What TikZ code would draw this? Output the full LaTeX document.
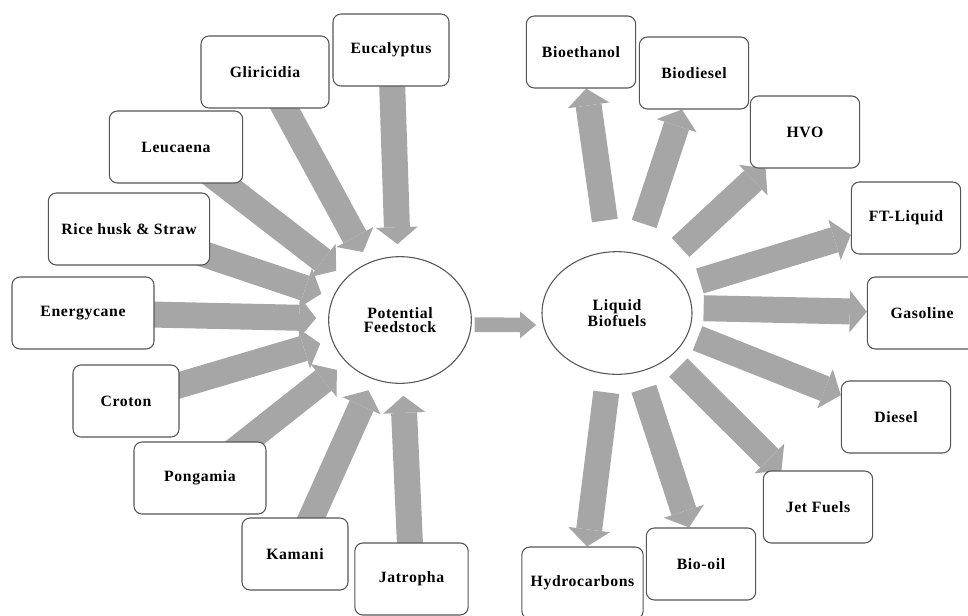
\documentclass[tikz,border=0pt]{standalone}
\usepackage{fontspec}
\setmainfont{Liberation Serif}[LetterSpace=4]
\usetikzlibrary{arrows.meta,shapes.geometric}
\definecolor{arrowgray}{HTML}{A6A6A6}
\definecolor{linegray}{HTML}{555555}
\pgfdeclarelayer{back}
\pgfsetlayers{back,main}

\begin{document}
\begin{tikzpicture}[x=0.75pt, y=-0.75pt,
        txt/.style={font=\fontsize{11.8}{10.8}\selectfont\bfseries},
        box/.style={txt, draw=linegray, fill=white, rounded corners=6pt, line width=0.8pt, minimum height=54pt, inner sep=2pt},
        hub/.style={txt, draw=linegray, fill=white, ellipse, line width=0.8pt, inner sep=0pt, align=center},
        fat/.style={draw=arrowgray, line width=19.5pt, -{Triangle[width=31.5pt, length=12.75pt, line width=0pt]}},
        slim/.style={draw=arrowgray, line width=11pt, -{Triangle[width=20pt, length=12pt, line width=0pt]}}]
            \useasboundingbox (0,0) rectangle (968,615);

            \node[hub, minimum width=107pt, minimum height=95pt] (PF) at (400,320) {Potential\\Feedstock};
            \node[hub, minimum width=112.5pt, minimum height=92pt] (LB) at (617,313) {Liquid\\Biofuels};

            % feedstock boxes
            \node[box, minimum width=87pt] (Euc) at (391,50) {Eucalyptus};
            \node[box, minimum width=96pt] (Gli) at (265,72) {Gliricidia};
            \node[box, minimum width=100pt] (Leu) at (176,147) {Leucaena};
            \node[box, minimum width=121pt] (Rice) at (129,229) {Rice husk \& Straw};
            \node[box, minimum width=106.5pt] (Ecane) at (83,313) {Energycane};
            \node[box, minimum width=79.5pt] (Cro) at (126,401) {Croton};
            \node[box, minimum width=99pt] (Pon) at (200,478) {Pongamia};
            \node[box, minimum width=79.5pt] (Kam) at (295,554) {Kamani};
            \node[box, minimum width=85pt] (Jat) at (411.5,579) {Jatropha};

            % biofuel boxes
            \node[box, minimum width=82pt] (Bioeth) at (581,52) {Bioethanol};
            \node[box, minimum width=82pt] (Biodsl) at (694,73) {Biodiesel};
            \node[box, minimum width=82pt] (HVO) at (805,132) {HVO};
            \node[box, minimum width=82pt] (FT) at (906,218) {FT-Liquid};
            \node[box, minimum width=82pt] (Gas) at (922,313) {Gasoline};
            \node[box, minimum width=82pt] (Dsl) at (896,417) {Diesel};
            \node[box, minimum width=82pt] (Jet) at (818,507) {Jet Fuels};
            \node[box, minimum width=82pt] (Boil) at (701,564) {Bio-oil};
            \node[box, minimum width=91pt] (Hydro) at (582.5,583) {Hydrocarbons};

            \begin{pgfonlayer}{back}
            \draw[fat, shorten >=9pt] (Euc.center) -- (PF);
            \draw[fat, shorten >=9pt] (Gli.center) -- (PF);
            \draw[fat, shorten >=9pt] (Leu.center) -- (PF);
            \draw[fat, shorten >=9pt] (Rice.center) -- (PF);
            \draw[fat, shorten >=9pt] (Ecane.center) -- (PF);
            \draw[fat, shorten >=9pt] (Cro.center) -- (PF);
            \draw[fat, shorten >=9pt] (Pon.center) -- (PF);
            \draw[fat, shorten >=9pt] (Kam.center) -- (PF);
            \draw[fat, shorten >=9pt] (Jat.center) -- (PF);

            \draw[slim] ([xshift=2pt, yshift=-3.5pt]PF.east) -- ([xshift=-4pt, yshift=-9pt]LB.west);

            \draw[fat, shorten <=65pt] ([yshift=5pt]LB.center) -- (Bioeth);
            \draw[fat, shorten <=65pt] ([yshift=5pt]LB.center) -- (Biodsl);
            \draw[fat, shorten <=65pt] ([yshift=5pt]LB.center) -- (HVO);
            \draw[fat, shorten <=65pt] ([yshift=5pt]LB.center) -- (FT);
            \draw[fat, shorten <=65pt] ([yshift=5pt]LB.center) -- (Gas);
            \draw[fat, shorten <=65pt] ([yshift=5pt]LB.center) -- (Dsl);
            \draw[fat, shorten <=65pt] ([yshift=5pt]LB.center) -- (Jet);
            \draw[fat, shorten <=65pt] ([yshift=5pt]LB.center) -- (Boil);
            \draw[fat, shorten <=65pt] ([yshift=5pt]LB.center) -- (Hydro);
            \end{pgfonlayer}
        \end{tikzpicture}
\end{document}
